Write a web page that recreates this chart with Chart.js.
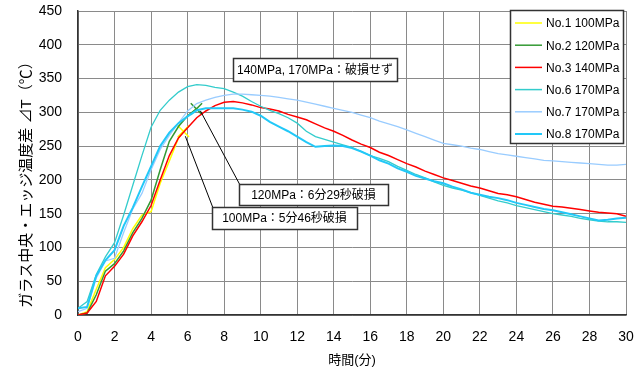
<!DOCTYPE html>
<html><head><meta charset="utf-8">
<script src="https://cdn.jsdelivr.net/npm/chart.js@4/dist/chart.umd.min.js"></script>
<style>html,body{margin:0;padding:0;background:#fff}</style>
</head><body>
<canvas id="c" width="643" height="376"></canvas>
<script>
// ---- data (minutes, temperature difference ΔT in °C) ----
const minutes = [0,0.5,1,1.5,2,2.5,3,3.5,4,4.5,5,5.5,6,6.5,7,7.5,8,8.5,9,9.5,10,10.5,11,11.5,12,12.5,13,13.5,14,14.5,15,15.5,16,16.5,17,17.5,18,18.5,19,19.5,20,20.5,21,21.5,22,22.5,23,23.5,24,24.5,25,25.5,26,26.5,27,27.5,28,28.5,29,29.5,30];
const xTicks = [0,2,4,6,8,10,12,14,16,18,20,22,24,26,28,30];
const yTicks = [0,50,100,150,200,250,300,350,400,450];
const seriesNames = ['No.1 100MPa','No.2 120MPa','No.3 140MPa','No.6 170MPa','No.7 170MPa','No.8 170MPa'];

const no1Values = [0,5,38,70,82,100,128,148,153,195,228,262];
const no1Fail = {t: 5 + 46/60, v: 272};   // 5分46秒
const no2Values = [0,3,30,65,76,95,122,143,170,215,257,279,295];
const no2Fail = {t: 6 + 29/60, v: 305};   // 6分29秒
const no3Values = [0,3,20,58,72,90,117,138,162,200,236,262,277,292,302,310,315,316,314,311,307,305,302,297,293,289,283,277,272,266,259,253,248,241,236,230,224,219,213,208,203,199,195,191,188,184,180,178,175,171,167,164,161,160,158,156,154,152,151,150,146];
const no6Values = [10,20,60,86,107,148,192,236,278,303,318,330,338,341,340,337,335,330,324,316,309,303,298,292,284,272,264,260,256,252,248,242,236,232,227,220,214,208,203,197,192,188,185,181,177,173,169,166,162,159,156,153,150,148,146,143,141,139,138,138,137];
const no7Values = [5,10,55,80,84,122,157,180,215,245,266,284,302,313,318,322,325,327,327,326,325,324,322,320,318,315,312,309,306,303,300,296,292,287,283,279,274,269,264,259,254,252,250,247,245,242,239,237,235,233,231,229,228,227,226,225,224,223,222,222,223];
const no8Values = [10,12,58,81,96,132,159,190,220,250,270,284,294,303,306,306,306,306,304,301,295,286,279,272,264,256,249,250,251,250,247,242,236,229,224,217,212,206,202,198,195,190,186,181,178,175,173,170,166,163,160,157,155,152,149,146,143,140,141,143,144];

const noteTexts = ['140MPa, 170MPa：破損せず','120MPa：6分29秒破損','100MPa：5分46秒破損'];

// ---- build ----
const FONT = "'Liberation Sans','Noto Sans CJK JP',Arial,sans-serif";
function pts(vals, fail){
  const d = vals.map((v,i)=>({x:minutes[i], y:v}));
  if (fail) d.push({x:fail.t, y:fail.v});
  return d;
}
const colors = ['#FFFF00','#339933','#FF0000','#33CCCC','#99CCFF','#22C8F8'];
const widths = [1.5,1.5,1.5,1.3,1.3,2];
const dataList = [pts(no1Values,no1Fail),pts(no2Values,no2Fail),pts(no3Values),pts(no6Values),pts(no7Values),pts(no8Values)];
const datasets = dataList.map((d,i)=>({
  label: seriesNames[i], data: d, borderColor: colors[i], backgroundColor: colors[i],
  borderWidth: widths[i], fill:false, tension:0, order: 6 - i,
  pointStyle: 'crossRot',
  pointRadius: ctx => (i < 2 && ctx.dataIndex === d.length - 1) ? 8 : 0,
  pointBorderWidth: 1.5, pointBorderColor: colors[i]
}));

const overlay = {
  id:'overlay',
  afterDraw(chart){
    const ctx = chart.ctx, xs = chart.scales.x, ys = chart.scales.y;
    ctx.save();
    // y axis title
    ctx.save();
    ctx.translate(27, 181); ctx.rotate(-Math.PI/2);
    ctx.font = "15px " + FONT; ctx.fillStyle = '#000';
    ctx.textAlign = 'center'; ctx.textBaseline = 'middle';
    ctx.fillText('ガラス中央・エッジ温度差 ⊿T（℃）', 0, 0);
    ctx.restore();
    // leader lines
    const px1 = xs.getPixelForValue(no1Fail.t), py1 = ys.getPixelForValue(no1Fail.v);
    const px2 = xs.getPixelForValue(no2Fail.t), py2 = ys.getPixelForValue(no2Fail.v);
    ctx.strokeStyle = '#000'; ctx.lineWidth = 1;
    ctx.beginPath(); ctx.moveTo(px1+2, py1+5); ctx.lineTo(213, 208); ctx.stroke();
    ctx.beginPath(); ctx.moveTo(px2+4, py2+2); ctx.lineTo(240, 185); ctx.stroke();
    // note boxes
    const boxes = [[233,58,164,23],[239,184,149,21],[212,207,145,22]];
    ctx.font = "12px " + FONT; ctx.textAlign='center'; ctx.textBaseline='middle';
    boxes.forEach((b,i)=>{
      ctx.fillStyle='#fff'; ctx.fillRect(b[0],b[1],b[2],b[3]);
      ctx.strokeStyle='#333'; ctx.lineWidth=1.5; ctx.strokeRect(b[0]+0.5,b[1]+0.5,b[2],b[3]);
      ctx.fillStyle='#000'; ctx.fillText(noteTexts[i], b[0]+b[2]/2, b[1]+b[3]/2+1);
    });
    // legend
    const lx = 510, ly = 10, lw = 113, lh = 133;
    ctx.fillStyle='#fff'; ctx.fillRect(lx,ly,lw,lh);
    ctx.strokeStyle='#333'; ctx.lineWidth=1.5; ctx.strokeRect(lx+0.5,ly+0.5,lw,lh);
    ctx.font = "12px " + FONT; ctx.textAlign='left'; ctx.textBaseline='middle';
    chart.data.datasets.forEach((ds,i)=>{
      const y = 23 + i*22.2;
      ctx.strokeStyle = ds.borderColor; ctx.lineWidth = Math.max(ds.borderWidth,1.5);
      ctx.beginPath(); ctx.moveTo(515,y); ctx.lineTo(542,y); ctx.stroke();
      ctx.fillStyle='#000'; ctx.fillText(ds.label, 546, y+1);
    });
    ctx.restore();
  }
};

function zeroPad(s){ s.paddingTop = 0; s.paddingBottom = 0; s.paddingLeft = 0; s.paddingRight = 0; }

new Chart(document.getElementById('c'), {
  type:'line',
  data:{datasets},
  options:{
    responsive:false, animation:false, devicePixelRatio:1,
    layout:{padding:{left:0,right:17,top:11,bottom:0}},
    plugins:{legend:{display:false}, tooltip:{enabled:false}},
    scales:{
      x:{type:'linear', min:0, max:30,
        afterBuildTicks: s => { s.ticks = xTicks.map(v=>({value:v})); },
        ticks:{padding:14, color:'#000', font:{size:14, family:FONT}, maxRotation:0, autoSkip:false},
        grid:{color:'#8a8a8a', lineWidth:1, drawTicks:false},
        border:{color:'#333', width:1.5},
        title:{display:true, text:'時間(分)', color:'#000', font:{size:13, family:FONT}, padding:{top:0,bottom:8}},
        afterFit: s => { s.height = 61; zeroPad(s); }
      },
      y:{type:'linear', min:0, max:450,
        afterBuildTicks: s => { s.ticks = yTicks.map(v=>({value:v})); },
        ticks:{padding:16, color:'#000', font:{size:14, family:FONT}, autoSkip:false},
        grid:{color:'#8a8a8a', lineWidth:1, drawTicks:false},
        border:{color:'#333', width:1.5},
        afterFit: s => { s.width = 78; zeroPad(s); }
      }
    }
  },
  plugins:[overlay]
});
</script>
</body></html>
